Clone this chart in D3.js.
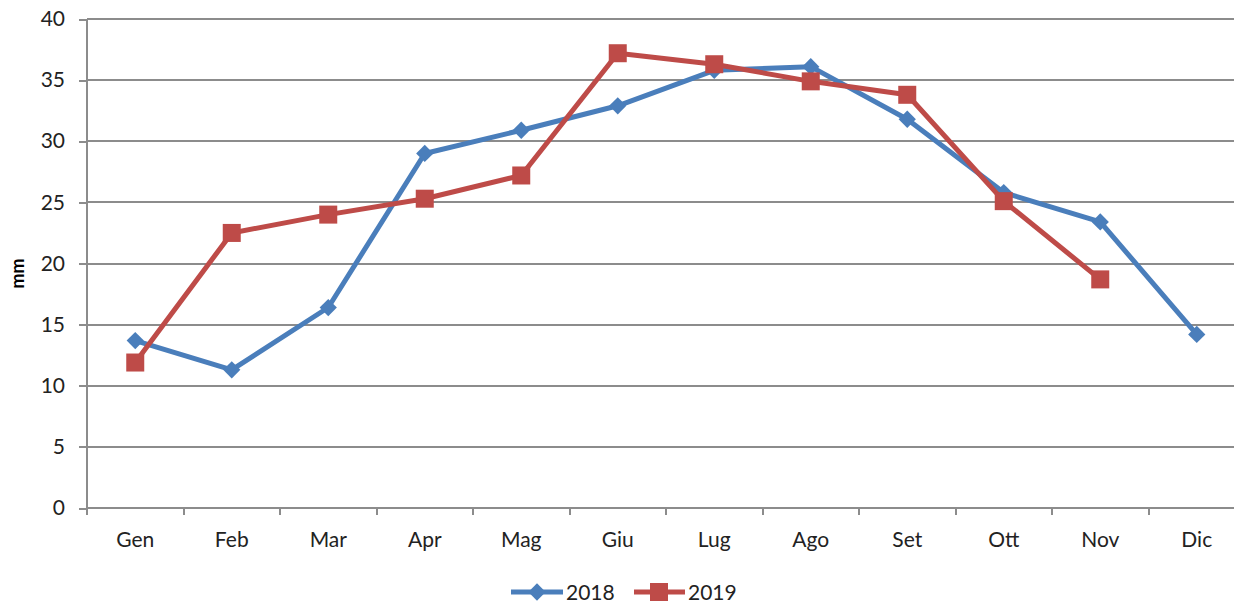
<!DOCTYPE html>
<head>
  <meta charset="utf-8">
  <script src="https://d3js.org/d3.v7.min.js"></script>
  <style>
    body { margin: 0; background: #fff; }
    svg { display: block; font-family: Lato, 'Open Sans', sans-serif; }
    .grid line { stroke: #8c8c8c; stroke-width: 2; shape-rendering: crispEdges; }
    .axis path, .axis line { stroke: #8c8c8c; stroke-width: 2; fill: none; shape-rendering: crispEdges; }
    .axis text { fill: #222; font-size: 21px; font-family: Lato, 'Open Sans', sans-serif; }
    .line { fill: none; stroke-width: 5; stroke-linejoin: round; }
    .legend text { fill: #222; font-size: 21px; }
  </style>
</head>
<body>
<svg width="1234" height="604"></svg>
<script>
var months = ["Gen", "Feb", "Mar", "Apr", "Mag", "Giu", "Lug", "Ago", "Set", "Ott", "Nov", "Dic"];
var values2018 = [13.7, 11.3, 16.4, 29.0, 30.9, 32.9, 35.8, 36.1, 31.8, 25.8, 23.4, 14.2];
var values2019 = [11.9, 22.5, 24.0, 25.3, 27.2, 37.2, 36.3, 34.9, 33.8, 25.1, 18.7];
var yTicks = [0, 5, 10, 15, 20, 25, 30, 35, 40];

var margin = {top: 19, left: 87};
var width = 1158, height = 489;

var svg = d3.select("svg");
var g = svg.append("g").attr("transform", "translate(" + margin.left + "," + margin.top + ")");

var x = d3.scaleBand().domain(months).range([0, width]);
var y = d3.scaleLinear().domain([0, 40]).range([height, 0]);

// horizontal gridlines
g.append("g")
    .attr("class", "grid")
    .selectAll("line")
    .data(yTicks.slice(1))
    .enter().append("line")
    .attr("x1", 0).attr("x2", width)
    .attr("y1", function(d) { return y(d); })
    .attr("y2", function(d) { return y(d); });

// y axis
var yAxis = g.append("g")
    .attr("class", "axis")
    .call(d3.axisLeft(y).tickValues(yTicks).tickSize(8).tickPadding(14).tickSizeOuter(0));
yAxis.select(".domain").remove();
yAxis.append("line").attr("x1", 0).attr("x2", 0).attr("y1", 0).attr("y2", height + 7);

// x axis
var xAxis = g.append("g")
    .attr("class", "axis")
    .attr("transform", "translate(0," + height + ")")
    .call(d3.axisBottom(x).tickSize(0).tickPadding(24));
xAxis.select(".domain").attr("d", "M0,0H" + width);
xAxis.selectAll(".tick line").remove();
xAxis.selectAll(".sep")
    .data(months)
    .enter().append("line")
    .attr("class", "sep")
    .attr("x1", function(d) { return x(d); })
    .attr("x2", function(d) { return x(d); })
    .attr("y1", 0).attr("y2", 7);

// y label
svg.append("text")
    .attr("transform", "translate(24," + (margin.top + height / 2 + 10) + ") rotate(-90)")
    .attr("text-anchor", "middle")
    .style("font-size", "18px")
    .style("font-weight", "bold")
    .text("mm");

var cx = function(i) { return x(months[i]) + x.bandwidth() / 2; };
var line = d3.line()
    .x(function(d, i) { return cx(i); })
    .y(function(d) { return y(d); });

var diamond = d3.symbol().type(d3.symbolDiamond2).size(190);

g.append("path").datum(values2018).attr("class", "line")
    .attr("stroke", "#4a7ebb").attr("d", line);
g.selectAll(".m2018").data(values2018).enter().append("path")
    .attr("class", "m2018")
    .attr("fill", "#4a7ebb")
    .attr("d", diamond)
    .attr("transform", function(d, i) { return "translate(" + cx(i) + "," + y(d) + ")"; });

g.append("path").datum(values2019).attr("class", "line")
    .attr("stroke", "#be4b48").attr("d", line);
g.selectAll(".m2019").data(values2019).enter().append("rect")
    .attr("class", "m2019")
    .attr("fill", "#be4b48")
    .attr("width", 18).attr("height", 18)
    .attr("x", function(d, i) { return cx(i) - 9; })
    .attr("y", function(d) { return y(d) - 9; });

// legend
var legend = svg.append("g").attr("class", "legend").attr("transform", "translate(0,592)");
legend.append("line").attr("x1", 511).attr("x2", 563).attr("y1", 0).attr("y2", 0)
    .attr("stroke", "#4a7ebb").attr("stroke-width", 5);
legend.append("path").attr("d", diamond).attr("fill", "#4a7ebb").attr("transform", "translate(537,0)");
legend.append("text").attr("x", 566).attr("y", 8).text("2018");
legend.append("line").attr("x1", 634).attr("x2", 685).attr("y1", 0).attr("y2", 0)
    .attr("stroke", "#be4b48").attr("stroke-width", 5);
legend.append("rect").attr("x", 650).attr("y", -9).attr("width", 18).attr("height", 18).attr("fill", "#be4b48");
legend.append("text").attr("x", 688).attr("y", 8).text("2019");
</script>
</body>
